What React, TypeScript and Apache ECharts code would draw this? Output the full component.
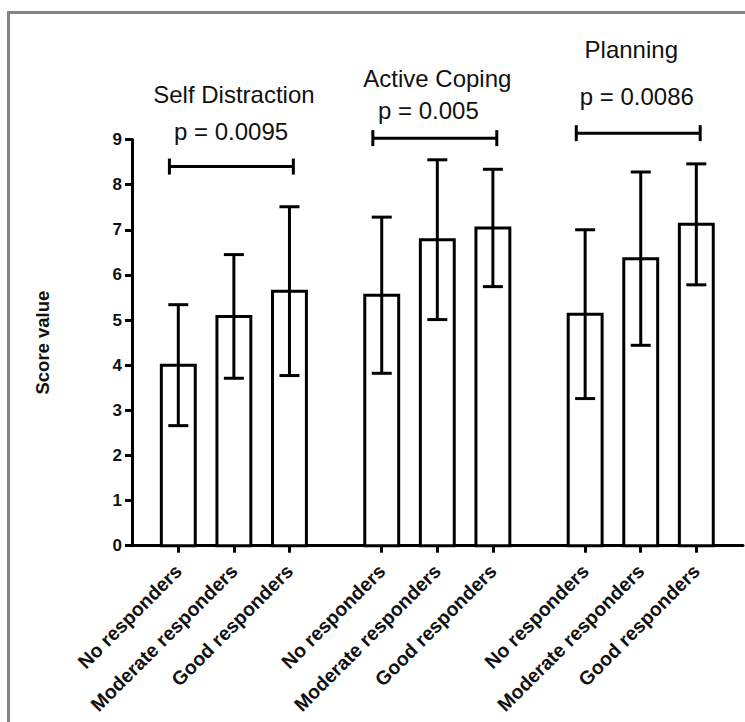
import React, { useEffect, useRef } from 'react';
import * as echarts from 'echarts';

// ---- data ----
const categories = ['No responders', 'Moderate responders', 'Good responders'];
const groups = ['Self Distraction', 'Active Coping', 'Planning'];
const meanValues = [
  [4.0, 5.08, 5.64],
  [5.55, 6.78, 7.04],
  [5.13, 6.36, 7.12],
];
const sdValues = [
  [1.34, 1.37, 1.87],
  [1.73, 1.77, 1.3],
  [1.87, 1.92, 1.34],
];
const pLabels = ['p = 0.0095', 'p = 0.005', 'p = 0.0086'];
const bracketLevels = [8.4, 9.03, 9.14];
const pLabelLevels = [9.17, 9.64, 9.95];
const titleLevels = [9.99, 10.36, 11.0];
const yTickValues = [0, 1, 2, 3, 4, 5, 6, 7, 8, 9];

// ---- layout constants ----
const GROUP_STEP = 3.66;
const BAR_W = 0.61;
const CAP_W = 0.36;
const titleOffsets = [0, 0, -0.17];
const pOffsets = [-0.05, -0.16, -0.07];
const FONT = 'Arial, "Liberation Sans", Helvetica, sans-serif';

const xPos = (g: number, i: number) => g * GROUP_STEP + i;

const barData: number[][] = [];
const tickPositions: number[] = [];
const tickLabels: string[] = [];
groups.forEach((_, g) => {
  categories.forEach((c, i) => {
    barData.push([xPos(g, i), meanValues[g][i], sdValues[g][i]]);
    tickPositions.push(xPos(g, i));
    tickLabels.push(c);
  });
});
const annotData = groups.map((_, g) => [xPos(g, 1), bracketLevels[g]]);

const labelFor = (v: number) => {
  let best = 0;
  let bd = Infinity;
  tickPositions.forEach((p, k) => {
    const d = Math.abs(p - v);
    if (d < bd) {
      bd = d;
      best = k;
    }
  });
  return bd < 0.01 ? tickLabels[best] : '';
};

const lineStyle = { stroke: '#000', lineWidth: 3 };

const option: any = {
  animation: false,
  backgroundColor: '#fff',
  graphic: [
    {
      type: 'rect',
      silent: true,
      z: -10,
      shape: { x: 8.5, y: 12.5, width: 780, height: 780 },
      style: { fill: 'none', stroke: '#858585', lineWidth: 3 },
    },
  ],
  grid: {
    left: 132,
    right: 2,
    top: 139.5,
    bottom: 176.3,
    containLabel: false,
    outerBoundsMode: 'none',
  },
  xAxis: {
    type: 'value',
    min: -0.833,
    max: 10.16,
    splitLine: { show: false },
    axisLine: { show: true, onZero: false, lineStyle: { color: '#000', width: 3 } },
    axisTick: {
      show: true,
      customValues: tickPositions,
      length: 7,
      lineStyle: { color: '#000', width: 3 },
    },
    axisLabel: {
      customValues: tickPositions,
      formatter: (v: number) => labelFor(v),
      rotate: 45,
      margin: 22,
      color: '#111',
      fontWeight: 'bold',
      fontSize: 19.5,
      fontFamily: FONT,
    },
  },
  yAxis: {
    type: 'value',
    min: 0,
    max: 9,
    interval: 1,
    name: 'Score value',
    nameLocation: 'middle',
    nameGap: 80,
    nameTextStyle: { color: '#111', fontWeight: 'bold', fontSize: 18.5, fontFamily: FONT },
    splitLine: { show: false },
    axisLine: { show: true, onZero: false, lineStyle: { color: '#000', width: 3 } },
    axisTick: { show: true, length: 7, lineStyle: { color: '#000', width: 3 } },
    axisLabel: {
      margin: 10,
      color: '#111',
      fontWeight: 'bold',
      fontSize: 17,
      fontFamily: FONT,
      formatter: (v: number) => (yTickValues.includes(v) ? String(v) : ''),
    },
  },
  series: [
    {
      type: 'custom',
      name: 'bars',
      clip: false,
      data: barData,
      encode: { x: 0, y: 1 },
      renderItem: (params: any, api: any) => {
        const x = api.value(0);
        const y = api.value(1);
        const top = api.coord([x, y]);
        const base = api.coord([x, 0]);
        const w = api.size([BAR_W, 0])[0];
        return {
          type: 'rect',
          shape: { x: top[0] - w / 2, y: top[1], width: w, height: base[1] - top[1] },
          style: { fill: '#fff', stroke: '#000', lineWidth: 3 },
        };
      },
    },
    {
      type: 'custom',
      name: 'errors',
      clip: false,
      data: barData,
      encode: { x: 0, y: 1 },
      renderItem: (params: any, api: any) => {
        const x = api.value(0);
        const m = api.value(1);
        const s = api.value(2);
        const hi = api.coord([x, m + s]);
        const lo = api.coord([x, m - s]);
        const cw = api.size([CAP_W, 0])[0] / 2;
        return {
          type: 'group',
          children: [
            { type: 'line', shape: { x1: hi[0], y1: hi[1], x2: lo[0], y2: lo[1] }, style: lineStyle },
            { type: 'line', shape: { x1: hi[0] - cw, y1: hi[1], x2: hi[0] + cw, y2: hi[1] }, style: lineStyle },
            { type: 'line', shape: { x1: lo[0] - cw, y1: lo[1], x2: lo[0] + cw, y2: lo[1] }, style: lineStyle },
          ],
        };
      },
    },
    {
      type: 'custom',
      name: 'annotations',
      clip: false,
      data: annotData,
      encode: { x: 0, y: 1 },
      renderItem: (params: any, api: any) => {
        const g = params.dataIndex;
        const level = api.value(1);
        const left = api.coord([xPos(g, 0) - 0.16, level]);
        const right = api.coord([xPos(g, 2) + 0.07, level]);
        const pPt = api.coord([xPos(g, 1) + pOffsets[g], pLabelLevels[g]]);
        const tPt = api.coord([xPos(g, 1) + titleOffsets[g], titleLevels[g]]);
        const h = 8;
        return {
          type: 'group',
          children: [
            { type: 'line', shape: { x1: left[0], y1: left[1], x2: right[0], y2: right[1] }, style: lineStyle },
            { type: 'line', shape: { x1: left[0], y1: left[1] - h, x2: left[0], y2: left[1] + h }, style: lineStyle },
            { type: 'line', shape: { x1: right[0], y1: right[1] - h, x2: right[0], y2: right[1] + h }, style: lineStyle },
            {
              type: 'text',
              x: pPt[0],
              y: pPt[1],
              style: {
                text: pLabels[g],
                fill: '#111',
                fontSize: 24,
                fontFamily: FONT,
                align: 'center',
                verticalAlign: 'middle',
              },
            },
            {
              type: 'text',
              x: tPt[0],
              y: tPt[1],
              style: {
                text: groups[g],
                fill: '#111',
                fontSize: 24,
                fontFamily: FONT,
                align: 'center',
                verticalAlign: 'middle',
              },
            },
          ],
        };
      },
    },
  ],
};

export default function App() {
  const ref = useRef<HTMLDivElement>(null);
  useEffect(() => {
    if (!ref.current) return;
    const chart = echarts.init(ref.current, null, { renderer: 'svg' });
    chart.setOption(option);
    return () => chart.dispose();
  }, []);
  return (
    <div
      ref={ref}
      style={{ position: 'fixed', left: 0, top: 0, width: 745, height: 722, background: '#fff' }}
    />
  );
}
